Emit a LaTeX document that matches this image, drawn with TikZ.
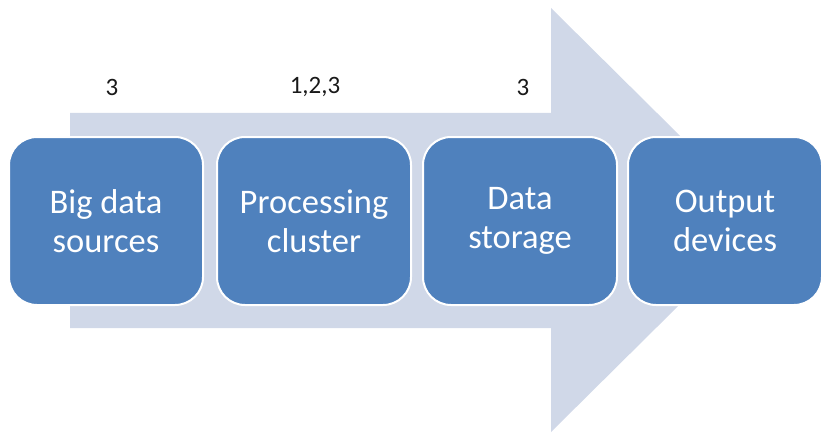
\documentclass[tikz,border=0pt]{standalone}
\usepackage{fontspec}
\setmainfont{Carlito}
\definecolor{boxblue}{HTML}{4F81BD}
\definecolor{arrowbg}{HTML}{D0D8E8}
\begin{document}
\begin{tikzpicture}[x=1pt,y=-1pt,
  stagebox/.style={rounded corners=28pt, fill=boxblue, draw=white, line width=2pt,
    minimum width=194pt, minimum height=168pt, text=white, align=center,
    font=\fontsize{34.5}{39}\selectfont, inner sep=0pt},
  numlabel/.style={text=black!90, font=\fontsize{25}{30}\selectfont, inner sep=0pt}]
\useasboundingbox (0,0) rectangle (821,433);
\fill[arrowbg] (70,113) -- (551,113) -- (551,8) -- (765,220) -- (551,432) -- (551,328) -- (70,328) -- cycle;
\node[stagebox] (b1) at (106,221) {Big data\\sources};
\node[stagebox] (b2) at (314,221) {Processing\\cluster};
\node[stagebox] (b3) at (520,221) {Data\\storage};
\node[stagebox] (b4) at (725,221) {Output\\devices};
\node[numlabel] (l1) at (112,87) {3};
\node[numlabel] (l2) at (315,87) {1,2,3};
\node[numlabel] (l3) at (523,87) {3};
\end{tikzpicture}
\end{document}
